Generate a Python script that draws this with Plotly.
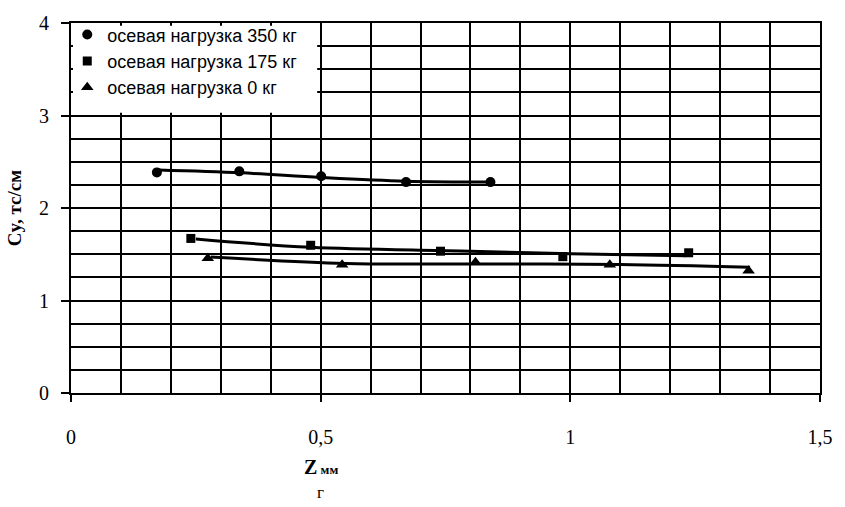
import plotly.graph_objects as go

# Measured points
x_350 = [0.172, 0.337, 0.501, 0.671, 0.840]
y_350 = [2.385, 2.396, 2.343, 2.280, 2.280]
x_175 = [0.240, 0.480, 0.740, 0.985, 1.237]
y_175 = [1.671, 1.597, 1.533, 1.474, 1.516]
x_0 = [0.274, 0.543, 0.810, 1.079, 1.357]
y_0 = [1.456, 1.386, 1.414, 1.386, 1.322]

# Trend lines
tx_350 = [0.175, 0.34, 0.50, 0.67, 0.84]
ty_350 = [2.41, 2.38, 2.33, 2.29, 2.28]
tx_175 = [0.25, 0.48, 0.78, 1.00, 1.23]
ty_175 = [1.665, 1.575, 1.535, 1.505, 1.485]
tx_0 = [0.28, 0.55, 0.78, 1.10, 1.36]
ty_0 = [1.47, 1.40, 1.395, 1.39, 1.36]

legend_names = ["осевая нагрузка 350 кг", "осевая нагрузка 175 кг", "осевая нагрузка 0 кг"]
x_ticks = [0, 0.5, 1, 1.5]
x_tick_text = ["0", "0,5", "1", "1,5"]
y_ticks = [0, 1, 2, 3, 4]

fig = go.Figure()
lw = 3
for tx, ty in [(tx_350, ty_350), (tx_175, ty_175), (tx_0, ty_0)]:
    fig.add_trace(go.Scatter(x=tx, y=ty, mode="lines", line=dict(color="black", width=lw, shape="spline"),
                             showlegend=False, hoverinfo="skip"))

for xs, ys, sym, nm, sz in [(x_350, y_350, "circle", legend_names[0], 10),
                            (x_175, y_175, "square", legend_names[1], 9),
                            (x_0, y_0, "triangle-up", legend_names[2], 11)]:
    fig.add_trace(go.Scatter(x=xs, y=ys, mode="markers", name=nm,
                             marker=dict(symbol=sym, color="black", size=sz)))

# white box behind legend
fig.add_shape(type="rect", xref="x", yref="y", x0=0.004, x1=0.493, y0=3.03, y1=3.97,
              fillcolor="white", line=dict(width=0), layer="above")

fig.update_xaxes(range=[0, 1.5], tickvals=x_ticks, ticktext=x_tick_text,
                 showline=True, linecolor="black", linewidth=2, mirror=True,
                 ticks="outside", ticklen=7, tickwidth=2, tickcolor="black",
                 showgrid=True, gridcolor="black", gridwidth=2,
                 minor=dict(dtick=0.1, showgrid=True, gridcolor="black", gridwidth=2),
                 tickfont=dict(family="Liberation Serif", size=20, color="black"),
                 ticklabelstandoff=18, zeroline=False)
fig.update_yaxes(range=[0, 4], tickvals=y_ticks,
                 showline=True, linecolor="black", linewidth=2, mirror=True,
                 ticks="outside", ticklen=8, tickwidth=2, tickcolor="black",
                 showgrid=True, gridcolor="black", gridwidth=2,
                 minor=dict(dtick=0.25, showgrid=True, gridcolor="black", gridwidth=2),
                 tickfont=dict(family="Liberation Serif", size=20, color="black"),
                 ticklabelstandoff=8, zeroline=False,
                 title=dict(text="<b>Cy, тс/см</b>", font=dict(family="Liberation Serif", size=19, color="black"),
                            standoff=12))

fig.add_annotation(x=0.5, y=-0.235, xref="x", yref="paper", showarrow=False,
                   text="<b>Z</b><b style='font-size:13px'> мм</b>",
                   font=dict(family="Liberation Serif", size=20, color="black"))
fig.add_annotation(x=0.5, y=-0.3, xref="x", yref="paper", showarrow=False,
                   text="г", font=dict(family="Liberation Serif", size=17, color="black"))

fig.update_layout(
    width=845, height=507,
    margin=dict(l=71, r=22, t=14, b=114),
    plot_bgcolor="white", paper_bgcolor="white",
    showlegend=True,
    legend=dict(x=-0.005, y=1.018, xanchor="left", yanchor="top", bgcolor="rgba(0,0,0,0)",
                font=dict(family="Liberation Sans", size=18, color="black"),
                itemwidth=30, tracegroupgap=0),
)

fig.write_html("out.html")
